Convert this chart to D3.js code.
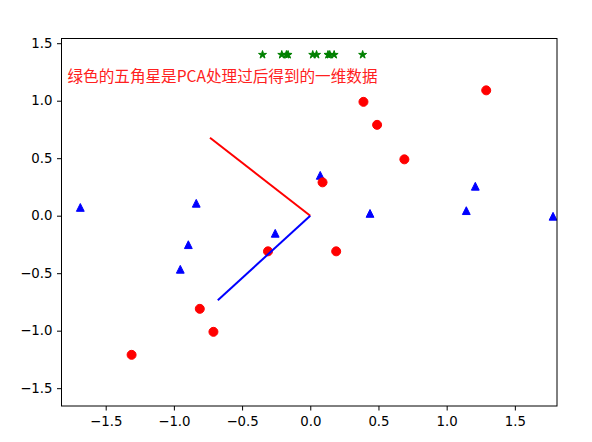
<!DOCTYPE html>
<html>
<head>
<meta charset="utf-8">
<script src="https://cdn.jsdelivr.net/npm/d3@7"></script>
<style>
html,body{margin:0;padding:0;background:#fff;}
svg{display:block;}
.tick text{font-family:"DejaVu Sans",sans-serif;font-size:13.3px;fill:#000;}
</style>
</head>
<body>
<svg id="chart" width="592" height="442"></svg>
<script>
// Original data (centered) - red circles
const circleX = [0.69, -1.31, 0.39, 0.09, 1.29, 0.49, 0.19, -0.81, -0.31, -0.71];
const circleY = [0.49, -1.21, 0.99, 0.29, 1.09, 0.79, -0.31, -0.81, -0.31, -1.01];
// Blue triangles
const triX = [-1.686, -0.836, -0.894, -0.953, -0.257, 0.073, 0.438, 1.144, 1.210, 1.780];
const triY = [0.072, 0.108, -0.252, -0.466, -0.153, 0.351, 0.020, 0.044, 0.256, -0.005];
// Green stars: one-dimensional PCA result, plotted at y = 1.4
const starX = [-0.175, 0.143, 0.384, 0.130, -0.209, 0.175, -0.350, 0.046, 0.018, -0.163];
const starY = [1.4, 1.4, 1.4, 1.4, 1.4, 1.4, 1.4, 1.4, 1.4, 1.4];
// Eigenvector lines from origin
const redLineX = [0, -0.7352];
const redLineY = [0, 0.6779];
const blueLineX = [0, -0.6779];
const blueLineY = [0, -0.7352];
// Ticks
const xTicks = [-1.5, -1.0, -0.5, 0.0, 0.5, 1.0, 1.5];
const yTicks = [-1.5, -1.0, -0.5, 0.0, 0.5, 1.0, 1.5];
const annotation = "绿色的五角星是PCA处理过后得到的一维数据";

const svg = d3.select("#chart");
const L = 61.5, R = 557, T = 38.5, B = 406;
const x = d3.scaleLinear().domain([-1.824, 1.809]).range([L, R]);
const y = d3.scaleLinear().domain([-1.655, 1.541]).range([B, T]);

svg.append("defs").append("clipPath").attr("id", "clip")
  .append("rect").attr("x", L).attr("y", T).attr("width", R - L).attr("height", B - T);

const g = svg.append("g").attr("clip-path", "url(#clip)");

const fmt = d => (d < 0 ? "\u2212" : "") + Math.abs(d).toFixed(1);

// triangles
const triPath = s => `M0,${-s}L${s},${s}L${-s},${s}Z`;
g.selectAll(".tri").data(triX.map((d, i) => [d, triY[i]])).enter()
  .append("path")
  .attr("d", triPath(3.9))
  .attr("transform", d => `translate(${x(d[0])},${y(d[1])})`)
  .attr("fill", "#0000ff").attr("stroke", "#0000ff").attr("stroke-width", 1);

// circles
g.selectAll(".cir").data(circleX.map((d, i) => [d, circleY[i]])).enter()
  .append("circle")
  .attr("cx", d => x(d[0])).attr("cy", d => y(d[1])).attr("r", 4.5)
  .attr("fill", "#ff0000").attr("stroke", "#ff0000").attr("stroke-width", 1);

// lines
const line = d3.line().x(d => x(d[0])).y(d => y(d[1]));
g.append("path").datum(redLineX.map((d, i) => [d, redLineY[i]]))
  .attr("d", line).attr("fill", "none").attr("stroke", "#ff0000").attr("stroke-width", 2);
g.append("path").datum(blueLineX.map((d, i) => [d, blueLineY[i]]))
  .attr("d", line).attr("fill", "none").attr("stroke", "#0000ff").attr("stroke-width", 2);

// stars
function starPath(r) {
  const ri = r * 0.381966;
  let p = "";
  for (let k = 0; k < 10; k++) {
    const rr = k % 2 === 0 ? r : ri;
    const a = -Math.PI / 2 + k * Math.PI / 5;
    p += (k === 0 ? "M" : "L") + (rr * Math.cos(a)).toFixed(3) + "," + (rr * Math.sin(a)).toFixed(3);
  }
  return p + "Z";
}
g.selectAll(".star").data(starX.map((d, i) => [d, starY[i]])).enter()
  .append("path")
  .attr("d", starPath(4.2))
  .attr("transform", d => `translate(${x(d[0])},${y(d[1])})`)
  .attr("fill", "#008000").attr("stroke", "#008000").attr("stroke-width", 1).attr("stroke-linejoin", "miter");

// annotation text
svg.append("text")
  .attr("x", x(-1.78)).attr("y", y(1.163))
  .attr("font-family", "'Noto Sans CJK SC', sans-serif")
  .attr("font-size", 15.6)
  .attr("fill", "#ff2020")
  .text(annotation);

// axes
const xAxis = d3.axisBottom(x).tickValues(xTicks).tickFormat(fmt).tickSize(4.5).tickPadding(4);
const yAxis = d3.axisLeft(y).tickValues(yTicks).tickFormat(fmt).tickSize(4.5).tickPadding(4.5);
const gx = svg.append("g").attr("transform", `translate(0,${B})`).call(xAxis);
const gy = svg.append("g").attr("transform", `translate(${L},0)`).call(yAxis);
[gx, gy].forEach(a => {
  a.select(".domain").remove();
  a.selectAll(".tick line").attr("stroke", "#000").attr("stroke-width", 1);
});
gx.selectAll(".tick text").attr("dy", "0.85em");

// frame
svg.append("rect").attr("x", L).attr("y", T).attr("width", R - L).attr("height", B - T)
  .attr("fill", "none").attr("stroke", "#000").attr("stroke-width", 1);
</script>
</body>
</html>
